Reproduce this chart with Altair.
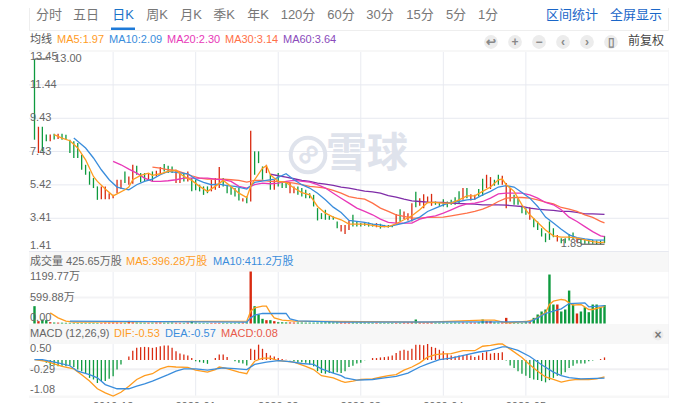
import altair as alt
import pandas as pd

FONT = "Liberation Sans, Noto Sans CJK SC, sans-serif"
RED = "#d92a10"
GREEN = "#0e9a3e"
C_MA5 = "#ff9c1f"
C_MA10 = "#3a8ddc"
C_MA20 = "#e838b8"
C_MA30 = "#ff7048"
C_MA60 = "#7f2ca8"
GRID = "#e7e9f0"
BAND = "#f7f7f7"

tabs = ["分时", "五日", "日K", "周K", "月K", "季K", "年K", "120分", "60分", "30分", "15分", "5分", "1分"]
tab_x = [49, 86, 123, 157, 191, 224, 258, 298, 341, 380, 420, 456, 488]

direction = list("DUDDUDUDDDDDDDDDDUUU" "UUUDUUDDDUDUUDDDUUDU" "DDDDDUUUDDDDDUDUDDDU"
                 "DUDDDUUDDDDDDDDDDDUUUDDDDDDUDDDDUD" "UUUDUUUUDDDDDDDUDUUDDUUDDUUU" "DDDDUDDDDDDUDDDDUDDDDDDDDU")
high = [13.0, 8.92, 8.92, 8.45, 8.45, 8.5, 8.5, 8.5, 8.44, 8.14, 8.04, 7.94, 7.24, 6.63, 6.23, 5.83, 5.33, 5.33, 5.33, 4.92,
        4.82, 5.73, 5.73, 6.23, 5.93, 6.63, 6.57, 6.13, 6.13, 6.13, 6.23, 6.27, 6.49, 6.67, 6.57, 6.53, 6.33, 6.13, 6.13, 6.23,
        5.83, 5.73, 5.43, 5.33, 5.33, 5.73, 5.83, 6.49, 5.83, 5.43, 5.33, 5.23, 5.23, 4.62, 4.72, 8.68, 7.44, 7.44, 6.53, 6.63,
        6.03, 5.73, 6.13, 5.63, 5.53, 5.53, 5.33, 5.33, 5.23, 5.13, 4.92, 4.82, 4.02, 3.72, 3.92, 3.56, 3.52, 3.22, 3.01, 3.01,
        3.28, 3.62, 3.22, 3.12, 3.12, 3.16, 3.08, 3.12, 3.08, 3.01, 3.01, 3.01, 3.66, 3.96, 3.82, 3.72, 4.32, 5.00, 4.62, 4.86,
        4.72, 4.88, 4.42, 4.32, 4.56, 4.42, 4.52, 4.68, 5.03, 5.23, 5.23, 4.86, 4.82, 5.17, 5.79, 6.03, 5.89, 5.73, 6.03, 5.97,
        5.53, 5.23, 4.82, 4.62, 4.16, 4.02, 4.08, 3.42, 3.22, 2.81, 2.51, 3.22, 2.81, 2.41, 2.21, 2.21, 2.47, 2.55, 2.21, 2.11,
        2.15, 2.11, 2.11, 2.07, 2.07, 2.35]
low = [8.14, 7.34, 7.44, 8.04, 8.04, 8.15, 8.18, 8.14, 8.14, 7.34, 7.04, 7.04, 6.33, 6.03, 5.43, 5.23, 4.52, 4.56, 4.56, 4.56,
       4.62, 4.92, 5.17, 5.53, 5.43, 5.49, 6.03, 5.57, 5.63, 5.73, 5.63, 5.93, 6.03, 6.23, 6.13, 6.13, 5.53, 5.53, 5.63, 5.63,
       5.03, 5.09, 5.03, 4.82, 4.92, 5.03, 5.13, 5.23, 5.33, 4.92, 4.82, 4.72, 4.48, 4.42, 4.32, 4.42, 6.03, 6.73, 5.73, 6.13,
       5.13, 5.13, 5.33, 5.23, 5.23, 4.92, 4.92, 4.82, 4.72, 4.62, 4.62, 4.12, 3.28, 3.36, 3.32, 3.32, 3.32, 2.81, 2.61, 2.47,
       2.71, 2.91, 2.91, 2.91, 2.96, 2.91, 2.91, 2.87, 2.79, 2.87, 2.85, 2.87, 3.01, 3.22, 3.36, 3.28, 3.22, 4.08, 4.16, 4.02,
       4.32, 4.16, 4.22, 4.16, 4.12, 4.08, 4.22, 4.22, 4.28, 4.52, 4.62, 4.48, 4.52, 4.72, 4.76, 5.23, 5.17, 5.37, 5.43, 5.43,
       4.02, 4.42, 4.22, 4.22, 3.72, 3.62, 3.32, 2.87, 2.71, 2.31, 1.97, 2.11, 2.27, 2.01, 1.91, 1.91, 2.07, 2.15, 1.95, 1.87,
       1.87, 1.87, 1.87, 1.85, 1.85, 1.91]

ma5_i = [5, 7, 9, 11, 13, 15, 16, 18, 20, 21, 23, 24, 25, 27, 29, 30, 32, 34, 36, 38, 40, 42, 44, 46, 48, 50, 52, 54, 55, 56, 58, 59, 60, 62, 64, 66, 68, 70, 72, 74, 76, 78, 80, 82, 84, 86, 88, 90, 92, 94, 96, 98, 100, 102, 104, 106, 108, 110, 112, 114, 116, 118, 119, 120, 122, 124, 126, 128, 130, 132, 134, 136, 138, 140, 142, 144, 145]
ma5_v = [8.44, 8.24, 8.08, 7.64, 6.93, 5.93, 5.63, 5.17, 4.76, 4.88, 5.13, 5.29, 5.73, 5.99, 6.13, 5.99, 6.09, 6.23, 6.29, 5.93, 5.69, 5.33, 5.03, 5.33, 5.69, 5.33, 4.92, 4.66, 5.33, 5.73, 6.43, 6.57, 6.03, 5.63, 5.57, 5.23, 4.96, 4.82, 4.12, 3.72, 3.48, 3.32, 3.06, 3.06, 3.06, 2.98, 2.91, 2.91, 3.08, 3.32, 3.56, 3.92, 4.36, 4.36, 4.32, 4.32, 4.52, 4.76, 4.76, 5.03, 5.29, 5.73, 5.77, 5.43, 5.03, 4.22, 3.62, 3.16, 2.71, 2.35, 2.27, 2.27, 2.21, 2.11, 2.01, 1.95, 1.97]
ma10_i = [10, 13, 15, 17, 19, 21, 23, 24, 26, 28, 30, 32, 34, 36, 39, 41, 43, 45, 47, 49, 51, 54, 56, 59, 61, 64, 66, 68, 70, 72, 74, 76, 78, 80, 82, 84, 86, 88, 90, 92, 94, 96, 98, 100, 102, 104, 106, 108, 110, 112, 114, 116, 118, 120, 122, 124, 126, 128, 130, 132, 134, 136, 138, 140, 142, 145]
ma10_v = [8.24, 7.64, 7.04, 6.33, 5.73, 5.29, 5.17, 5.13, 5.43, 5.63, 5.77, 6.03, 6.23, 6.17, 6.09, 5.77, 5.57, 5.43, 5.47, 5.37, 5.33, 5.17, 5.57, 5.69, 5.77, 6.09, 5.73, 5.43, 5.23, 4.92, 4.52, 4.08, 3.76, 3.28, 3.22, 3.16, 3.06, 3.01, 2.91, 3.01, 3.12, 3.28, 3.48, 3.82, 4.02, 4.22, 4.36, 4.42, 4.52, 4.56, 4.82, 5.03, 5.29, 5.37, 5.29, 4.96, 4.62, 4.12, 3.48, 3.12, 2.75, 2.41, 2.25, 2.17, 2.11, 2.09]
ma20_i = [20, 22, 24, 26, 28, 30, 32, 34, 36, 38, 40, 44, 46, 48, 50, 52, 54, 56, 58, 60, 62, 64, 66, 70, 72, 74, 76, 78, 80, 82, 84, 86, 88, 90, 92, 96, 98, 100, 102, 104, 106, 108, 110, 112, 114, 116, 118, 120, 124, 126, 128, 130, 132, 134, 136, 138, 140, 142, 144, 145]
ma20_v = [6.83, 6.63, 6.37, 6.13, 5.83, 5.63, 5.63, 5.67, 5.73, 5.83, 5.83, 5.83, 5.77, 5.73, 5.63, 5.33, 5.23, 5.43, 5.53, 5.49, 5.53, 5.63, 5.69, 5.59, 5.43, 5.23, 4.92, 4.62, 4.32, 4.02, 3.82, 3.62, 3.36, 3.16, 3.12, 3.12, 3.36, 3.48, 3.56, 3.72, 3.92, 4.12, 4.28, 4.32, 4.42, 4.62, 4.88, 4.92, 4.92, 4.82, 4.62, 4.36, 4.22, 3.92, 3.48, 3.22, 2.91, 2.61, 2.35, 2.30]
ma30_i = [30, 32, 34, 36, 38, 40, 42, 44, 48, 50, 52, 54, 56, 58, 60, 62, 64, 66, 68, 70, 72, 74, 76, 78, 80, 82, 84, 86, 88, 90, 92, 94, 96, 98, 100, 104, 106, 110, 112, 114, 116, 118, 120, 122, 124, 126, 128, 130, 132, 134, 136, 138, 140, 142, 144, 145]
ma30_v = [6.49, 6.43, 6.33, 6.29, 6.13, 5.97, 5.83, 5.77, 5.77, 5.73, 5.69, 5.59, 5.69, 5.69, 5.63, 5.63, 5.59, 5.53, 5.43, 5.33, 5.29, 5.23, 5.09, 4.92, 4.72, 4.62, 4.56, 4.32, 4.02, 3.82, 3.62, 3.52, 3.42, 3.42, 3.46, 3.48, 3.56, 3.72, 3.82, 3.96, 4.16, 4.42, 4.62, 4.66, 4.66, 4.62, 4.52, 4.38, 4.28, 4.06, 3.96, 3.82, 3.62, 3.46, 3.22, 3.14]
ma60_i = [60, 62, 64, 66, 68, 70, 72, 74, 76, 78, 80, 82, 84, 86, 88, 90, 92, 94, 96, 98, 100, 104, 106, 110, 112, 114, 118, 120, 122, 124, 126, 128, 130, 132, 134, 136, 138, 140, 142, 145]
ma60_v = [6.07, 5.97, 5.89, 5.79, 5.69, 5.63, 5.53, 5.47, 5.39, 5.29, 5.23, 5.13, 5.05, 5.00, 4.92, 4.78, 4.68, 4.56, 4.46, 4.42, 4.38, 4.36, 4.32, 4.28, 4.26, 4.22, 4.22, 4.20, 4.16, 4.12, 4.02, 3.96, 3.92, 3.88, 3.82, 3.82, 3.76, 3.68, 3.68, 3.64]

volume = [400, 54, 92, 77, 30, 22, 20, 18, 16, 15, 14, 14, 15, 15, 16, 15, 15, 16, 20, 20,
          22, 22, 20, 18, 60, 25, 22, 20, 18, 18, 20, 22, 22, 18, 20, 22, 18, 16, 15, 22,
          60, 20, 16, 15, 14, 15, 15, 16, 15, 14, 15, 16, 18, 22, 25, 1199.77, 400, 208, 108, 77,
          77, 54, 30, 28, 25, 25, 22, 22, 22, 20, 20, 20, 22, 24, 26, 28, 24, 24, 22, 22,
          20, 22, 20, 22, 20, 20, 18, 18, 16, 15, 15, 15, 15, 15, 22, 25, 28, 92, 22, 16,
          22, 25, 18, 18, 20, 18, 18, 20, 18, 22, 18, 22, 20, 25, 92, 54, 54, 25, 22, 25,
          130, 30, 25, 15, 16, 28, 30, 130, 208, 277, 323, 1130, 438, 438, 277, 323, 760, 438, 231, 277,
          377, 261, 438, 438, 377, 425.65]
vma5_i = [4, 6, 8, 10, 54, 55, 56, 58, 59, 60, 61, 63, 66, 100, 114, 117, 120, 125, 127, 130, 131, 132, 134, 135, 136, 137, 139, 141, 142, 145]
vma5_v = [246, 130, 54, 31, 54, 285, 361, 400, 400, 246, 130, 77, 54, 31, 77, 77, 15, 46, 92, 246, 438, 515, 554, 538, 477, 423, 438, 323, 323, 396.28]
vma10_i = [9, 54, 55, 56, 58, 64, 65, 67, 78, 126, 128, 130, 132, 134, 136, 140, 141, 145]
vma10_v = [54, 31, 130, 192, 231, 231, 108, 62, 31, 38, 130, 231, 285, 338, 461, 477, 385, 411.2]

macd = [0, 0, 0, -0.09, -0.17, -0.17, -0.20, -0.18, -0.20, -0.18, -0.22, -0.30, -0.35, -0.41, -0.56, -0.61, -0.72, -0.66, -0.66, -0.59,
        -0.51, -0.30, -0.14, 0, 0.11, 0.29, 0.38, 0.40, 0.41, 0.40, 0.38, 0.40, 0.43, 0.45, 0.45, 0.38, 0.27, 0.20, 0.17, 0.14,
        0.06, -0.04, -0.07, -0.09, -0.12, 0, 0.06, 0.17, 0.17, 0.09, 0, -0.04, -0.09, -0.11, -0.17, 0.35, 0.32, 0.48, 0.35, 0.22,
        0.14, 0.11, 0.06, 0.03, 0.01, -0.01, -0.04, -0.07, -0.07, -0.09, -0.14, -0.20, -0.35, -0.41, -0.43, -0.41, -0.41, -0.38, -0.41, -0.35,
        -0.22, -0.18, -0.11, -0.09, -0.01, 0, 0.06, 0.06, 0.08, 0.09, 0.11, 0.14, 0.22, 0.29, 0.32, 0.29, 0.35, 0.48, 0.48, 0.46,
        0.50, 0.41, 0.38, 0.32, 0.27, 0.20, 0.14, 0.11, 0.14, 0.14, 0.17, 0.14, 0.09, 0.14, 0.22, 0.27, 0.20, 0.22, 0.22, 0.24,
        -0.02, -0.17, -0.25, -0.35, -0.43, -0.49, -0.56, -0.61, -0.63, -0.66, -0.70, -0.63, -0.56, -0.49, -0.46, -0.38, -0.25, -0.18, -0.11, -0.11,
        -0.11, -0.04, -0.02, 0, 0.03, 0.08]
dif_i = [0, 3, 5, 7, 10, 12, 14, 16, 18, 20, 22, 24, 26, 28, 30, 32, 34, 36, 39, 41, 44, 46, 47, 49, 52, 54, 55, 56, 58, 60, 62, 66, 69, 71, 73, 76, 78, 79, 81, 83, 86, 88, 90, 92, 94, 96, 98, 100, 102, 104, 106, 109, 112, 114, 116, 118, 119, 121, 124, 126, 128, 130, 132, 134, 136, 138, 141, 143, 145]
dif_v = [0.01, -0.04, -0.12, -0.20, -0.28, -0.46, -0.66, -0.90, -1.03, -1.13, -1.01, -0.82, -0.61, -0.49, -0.43, -0.28, -0.20, -0.22, -0.23, -0.32, -0.38, -0.30, -0.22, -0.27, -0.38, -0.43, -0.20, -0.04, 0.06, 0.06, -0.02, -0.07, -0.20, -0.30, -0.49, -0.56, -0.66, -0.70, -0.66, -0.61, -0.59, -0.54, -0.49, -0.46, -0.32, -0.22, -0.09, 0.09, 0.17, 0.19, 0.20, 0.29, 0.29, 0.43, 0.46, 0.50, 0.50, 0.34, 0.08, -0.15, -0.35, -0.53, -0.61, -0.69, -0.64, -0.61, -0.61, -0.59, -0.53]
dea_i = [0, 2, 6, 9, 11, 14, 16, 18, 21, 24, 26, 28, 30, 32, 34, 36, 38, 41, 44, 48, 51, 54, 56, 59, 62, 65, 68, 71, 73, 76, 78, 79, 82, 86, 89, 92, 95, 98, 100, 103, 106, 110, 113, 116, 119, 120, 123, 126, 129, 132, 134, 136, 139, 145]
dea_v = [0.01, 0.01, -0.09, -0.18, -0.35, -0.46, -0.56, -0.77, -0.90, -0.90, -0.82, -0.75, -0.66, -0.56, -0.46, -0.35, -0.28, -0.28, -0.32, -0.25, -0.27, -0.30, -0.14, -0.07, -0.02, -0.05, -0.11, -0.14, -0.28, -0.41, -0.49, -0.56, -0.63, -0.61, -0.56, -0.51, -0.41, -0.22, -0.12, 0.01, 0.06, 0.17, 0.25, 0.30, 0.41, 0.41, 0.30, 0.11, -0.15, -0.38, -0.49, -0.55, -0.59, -0.57]

grid_i = [20, 41, 62, 83, 104, 125]
month_labels = ["2019-12", "2020-01", "2020-02", "2020-03", "2020-04", "2020-05"]
price_ticks = [11.44, 9.43, 7.43, 5.42, 3.41, 1.41]

XS = alt.Scale(domain=[0, 145], range=[21.5, 601.5], nice=False, zero=False)
PS = alt.Scale(domain=[1.41, 13.45], range=[243.5, 43.5], nice=False, zero=False)
VS = alt.Scale(domain=[0, 1199.77], range=[315.5, 263.5], nice=False, zero=False)
MS = alt.Scale(domain=[-1.08, 0.50], range=[386.5, 336], nice=False, zero=False)


def X(f="i"):
    return alt.X(f"{f}:Q", scale=XS, axis=None)


def Y(scale, f="v"):
    return alt.Y(f"{f}:Q", scale=scale, axis=None)


COLOR = alt.Color("d:N", scale=alt.Scale(domain=["U", "D"], range=[RED, GREEN]), legend=None)


def txt(t, x, y, color="#666666", size=11, align="left", **kw):
    return alt.Chart(pd.DataFrame({"t": [t]})).mark_text(
        align=align, baseline="middle", font=FONT, fontSize=size, color=color, **kw
    ).encode(text="t:N", x=alt.value(x - 8), y=alt.value(y - 8))


def rect(x0, x1, y0, y1, color, **kw):
    return alt.Chart(pd.DataFrame({"a": [0]})).mark_rect(color=color, **kw).encode(
        x=alt.value(x0 - 8), x2=alt.value(x1 - 8), y=alt.value(y0 - 8), y2=alt.value(y1 - 8)
    )


def line(idx, vals, color, scale, width=1.3):
    return alt.Chart(pd.DataFrame({"i": idx, "v": vals})).mark_line(
        color=color, strokeWidth=width, clip=False
    ).encode(x=X(), y=Y(scale))


def hgrid(values, scale, color=GRID, width=1.0):
    return alt.Chart(pd.DataFrame({"v": values})).mark_rule(color=color, strokeWidth=width).encode(
        y=Y(scale), x=alt.value(21), x2=alt.value(661)
    )


def dot(x, y, size=190, color="#ececec"):
    return alt.Chart(pd.DataFrame({"a": [0]})).mark_point(
        filled=True, color=color, size=size, opacity=1
    ).encode(x=alt.value(x - 8), y=alt.value(y - 8))


layers = []

# grid
vg = alt.Chart(pd.DataFrame({"i": grid_i})).mark_rule(color="#e9ebf1", strokeWidth=1).encode(
    x=X(), y=alt.value(44), y2=alt.value(388)
)
layers.append(vg)
layers.append(rect(29, 669, 50, 52, BAND))
layers.append(rect(29, 669, 252, 272, BAND))
layers.append(rect(29, 669, 324, 344, BAND))
layers.append(rect(29, 669, 395.5, 398, BAND))
layers.append(hgrid(price_ticks, PS))
layers.append(hgrid([599.88], VS, "#f3f3f5", 2))
layers.append(hgrid([-0.29], MS, "#f0f0f3", 2))
layers.append(rect(668.5, 669.5, 52, 398, "#f0f0f3"))

# toolbar
layers.append(alt.Chart(pd.DataFrame({"a": [0]})).mark_rect(fill="#ffffff", stroke="#eeeeee", strokeWidth=1).encode(
    x=alt.value(21.5), x2=alt.value(660.5), y=alt.value(-6.5), y2=alt.value(22.5)))
for t, x in zip(tabs, tab_x):
    layers.append(txt(t, x, 15, "#1a73c8" if t == "日K" else "#777777", 13, "center"))
layers.append(rect(111, 135, 27.5, 30, "#1e7ad8"))
layers.append(txt("区间统计", 572, 15, "#1a66c8", 13, "center"))
layers.append(txt("全屏显示", 636, 15, "#1a66c8", 13, "center"))

# legend row
layers.append(txt("均线", 30, 40, "#555555"))
for t, x, c in [("MA5:1.97", 57, C_MA5), ("MA10:2.09", 109, C_MA10), ("MA20:2.30", 167, C_MA20),
                ("MA30:3.14", 225, C_MA30), ("MA60:3.64", 283, "#8a4bbb")]:
    layers.append(txt(t, x, 40, c))
for x, g in zip([491, 515, 539, 563, 587, 611], ["↩", "+", "−", "‹", "›", "▯"]):
    layers.append(dot(x, 42))
    layers.append(txt(g, x, 41.5, "#888888", 12, "center", fontWeight="bold"))
layers.append(txt("前复权", 646, 41, "#444444", 12, "center"))

# watermark
layers.append(alt.Chart(pd.DataFrame({"a": [0]})).mark_point(
    shape="circle", filled=False, color="#dfe3ec", size=1200, strokeWidth=4, opacity=1
).encode(x=alt.value(300), y=alt.value(147)))
layers.append(txt("∞", 308, 154, "#dfe3ec", 32, "center", angle=315, fontWeight="bold"))
layers.append(txt("雪球", 367, 155, "#dfe3ec", 41, "center", fontWeight="bold"))

# candles
cd = pd.DataFrame({"i": range(146), "h": high, "l": low, "d": direction[:146]})
layers.append(alt.Chart(cd).mark_rule(strokeWidth=1.3).encode(
    x=X(), y=Y(PS, "h"), y2=alt.Y2("l:Q"), color=COLOR))
layers.append(line(ma60_i, ma60_v, C_MA60, PS))
layers.append(line(ma30_i, ma30_v, C_MA30, PS))
layers.append(line(ma20_i, ma20_v, C_MA20, PS))
layers.append(line(ma10_i, ma10_v, C_MA10, PS))
layers.append(line(ma5_i, ma5_v, C_MA5, PS))

# max/min annotation
layers.append(alt.Chart(pd.DataFrame({"i": [0], "i2": [3.5], "v": [13.0]})).mark_rule(color="#444444", strokeWidth=1).encode(
    x=X(), x2=alt.X2("i2:Q"), y=Y(PS)))
layers.append(alt.Chart(pd.DataFrame({"i": [139], "i2": [145], "v": [1.85]})).mark_rule(color="#444444", strokeWidth=1).encode(
    x=X(), x2=alt.X2("i2:Q"), y=Y(PS)))
layers.append(alt.Chart(pd.DataFrame({"i": [5], "v": [13.0], "t": ["13.00"]})).mark_text(
    align="left", baseline="middle", font=FONT, fontSize=11, color="#666666"
).encode(x=X(), y=Y(PS), text="t:N"))
layers.append(alt.Chart(pd.DataFrame({"i": [133.9], "v": [1.85], "t": ["1.85"]})).mark_text(
    align="left", baseline="middle", font=FONT, fontSize=11, color="#666666"
).encode(x=X(), y=Y(PS), text="t:N"))
for t, y in [("13.45", 57), ("11.44", 85), ("9.43", 118), ("7.43", 152), ("5.42", 185), ("3.41", 218), ("1.41", 246)]:
    layers.append(txt(t, 30, y))

# volume panel
layers.append(txt("成交量 425.65万股", 30, 262, "#666666"))
layers.append(txt("MA5:396.28万股", 126, 262, C_MA5))
layers.append(txt("MA10:411.2万股", 213, 262, C_MA10))
vd = pd.DataFrame({"i": range(146), "v": volume, "d": direction[:146]})
layers.append(alt.Chart(vd).mark_bar(size=2.4).encode(x=X(), y=Y(VS), color=COLOR))
layers.append(line(vma5_i, vma5_v, C_MA5, VS))
layers.append(line(vma10_i, vma10_v, C_MA10, VS))
layers.append(txt("1199.77万", 30, 277))
layers.append(txt("599.88万", 30, 298))
layers.append(txt("0.00", 30, 318))

# MACD panel
layers.append(txt("MACD (12,26,9)", 30, 334, "#666666"))
layers.append(txt("DIF:-0.53", 114, 334, C_MA5))
layers.append(txt("DEA:-0.57", 165, 334, C_MA10))
layers.append(txt("MACD:0.08", 221, 334, "#e8594a"))
layers.append(dot(658, 335, 120))
layers.append(txt("×", 658, 335, "#777777", 12, "center", fontWeight="bold"))
md = pd.DataFrame({"i": range(146), "v": macd, "z": [0] * 146, "d": ["U" if m >= 0 else "D" for m in macd]})
md = md[md.v != 0]
layers.append(alt.Chart(md).mark_rule(strokeWidth=1.3).encode(
    x=X(), y=Y(MS), y2=alt.Y2("z:Q"), color=COLOR))
layers.append(line(dif_i, dif_v, C_MA5, MS))
layers.append(line(dea_i, dea_v, C_MA10, MS))
layers.append(txt("0.50", 30, 349))
layers.append(txt("-0.29", 30, 370))
layers.append(txt("-1.08", 30, 390))

# month labels
ml = pd.DataFrame({"i": grid_i, "t": month_labels})
layers.append(alt.Chart(ml).mark_text(
    align="center", baseline="middle", font=FONT, fontSize=11, color="#666666"
).encode(x=X(), y=alt.value(399), text="t:N"))

chart = alt.layer(*layers).resolve_scale(y="independent").properties(
    width=661, height=402, padding=0, autosize=alt.AutoSizeParams(type="none")
).configure_view(stroke=None)

chart.save("out.html", embed_options={"renderer": "svg", "actions": False})
